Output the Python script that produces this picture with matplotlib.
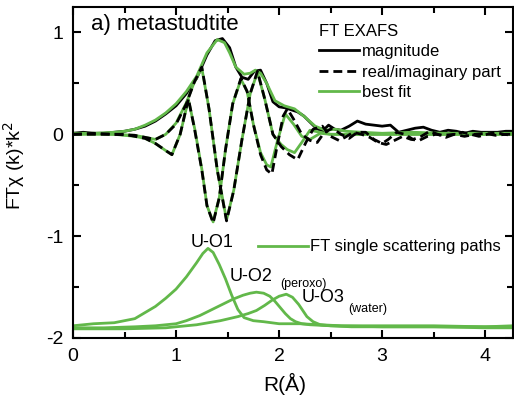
import matplotlib
matplotlib.use("Agg")
import matplotlib.pyplot as plt
from matplotlib.lines import Line2D

plt.rcParams['font.family'] = ['Liberation Sans', 'DejaVu Sans']
plt.rcParams['axes.unicode_minus'] = False

GREEN = '#62b84a'

# ---------------- data ----------------
# magnitude of FT (experiment)
r_mag = [0.0, 0.1, 0.2, 0.3, 0.4, 0.5, 0.6, 0.7, 0.8, 0.9, 1.0, 1.1, 1.2, 1.3, 1.38, 1.45,
         1.52, 1.58, 1.64, 1.70, 1.76, 1.82, 1.88, 1.94, 2.0, 2.06, 2.12, 2.18, 2.24, 2.30,
         2.36, 2.42, 2.48, 2.54, 2.60, 2.68, 2.76, 2.84, 2.92, 3.0, 3.08, 3.16, 3.24, 3.32,
         3.40, 3.48, 3.56, 3.64, 3.72, 3.80, 3.88, 3.96, 4.04, 4.12, 4.20, 4.27]
mag = [0.01, 0.02, 0.01, 0.01, 0.02, 0.03, 0.05, 0.08, 0.13, 0.20, 0.28, 0.40, 0.55, 0.78, 0.92, 0.94,
       0.85, 0.66, 0.56, 0.54, 0.62, 0.63, 0.50, 0.32, 0.27, 0.26, 0.24, 0.22, 0.18, 0.12,
       0.06, 0.03, 0.09, 0.05, 0.04, 0.08, 0.13, 0.10, 0.09, 0.08, 0.09, 0.02, 0.04, 0.06,
       0.07, 0.04, 0.02, 0.04, 0.03, 0.01, 0.03, 0.02, 0.02, 0.02, 0.03, 0.03]

# real part (experiment)
r_re = [0.0, 0.2, 0.4, 0.5, 0.6, 0.7, 0.8, 0.9, 0.96, 1.04, 1.12, 1.18, 1.25, 1.30, 1.36,
        1.42, 1.48, 1.55, 1.63, 1.69, 1.75, 1.82, 1.88, 1.93, 1.98, 2.04, 2.08, 2.14, 2.22,
        2.30, 2.37, 2.44, 2.52, 2.60, 2.68, 2.76, 2.84, 2.92, 3.0, 3.06, 3.14, 3.22, 3.30,
        3.38, 3.46, 3.54, 3.62, 3.70, 3.78, 3.86, 3.94, 4.02, 4.10, 4.18, 4.27]
re = [0.0, 0.0, 0.0, 0.0, -0.02, -0.04, -0.09, -0.16, -0.20, 0.0, 0.35, 0.05, -0.35, -0.70, -0.87,
      -0.62, -0.15, 0.30, 0.55, 0.42, 0.10, -0.20, -0.35, -0.39, -0.12, 0.18, 0.25, 0.15, 0.0,
      -0.06, -0.08, 0.02, 0.06, 0.0, -0.04, 0.02, 0.02, -0.05, -0.09, -0.05, 0.02, 0.0, -0.05,
      -0.02, 0.03, 0.0, -0.03, 0.0, 0.02, 0.0, -0.02, 0.0, 0.02, 0.0, -0.01]

# imaginary part (experiment)
r_im = [0.0, 0.2, 0.4, 0.6, 0.7, 0.8, 0.9, 1.0, 1.1, 1.18, 1.25, 1.32, 1.40, 1.49, 1.56,
        1.64, 1.72, 1.79, 1.86, 1.94, 2.02, 2.10, 2.18, 2.26, 2.33, 2.42, 2.50, 2.58, 2.64,
        2.72, 2.80, 2.88, 2.96, 3.04, 3.12, 3.20, 3.28, 3.36, 3.44, 3.52, 3.60, 3.70, 3.80,
        3.90, 4.00, 4.10, 4.20, 4.27]
im = [0.0, 0.01, 0.0, -0.01, -0.03, -0.05, 0.0, 0.10, 0.30, 0.52, 0.66, 0.25, -0.35, -0.85, -0.55,
      -0.05, 0.40, 0.62, 0.35, 0.0, -0.12, -0.20, -0.25, -0.08, 0.05, 0.08, -0.02, -0.06, -0.03,
      0.02, 0.0, -0.03, -0.08, -0.10, -0.06, -0.02, -0.05, -0.06, -0.02, 0.0, -0.01, 0.0, -0.02,
      0.0, 0.01, -0.01, 0.0, 0.0]

# best fit: magnitude, real, imaginary
r_fmag = [0.0, 0.2, 0.4, 0.5, 0.6, 0.7, 0.8, 0.9, 1.0, 1.1, 1.2, 1.3, 1.40, 1.47, 1.52, 1.58,
          1.66, 1.72, 1.77, 1.82, 1.88, 1.96, 2.05, 2.15, 2.25, 2.35, 2.45, 2.55, 2.65, 2.8,
          3.0, 3.3, 3.6, 3.9, 4.27]
fmag = [0.01, 0.01, 0.02, 0.03, 0.05, 0.09, 0.14, 0.21, 0.30, 0.42, 0.57, 0.80, 0.93, 0.90, 0.80, 0.66,
        0.59, 0.60, 0.63, 0.60, 0.50, 0.33, 0.28, 0.25, 0.17, 0.08, 0.04, 0.05, 0.03, 0.02,
        0.01, 0.02, 0.01, 0.01, 0.01]

r_fre = [0.0, 0.2, 0.4, 0.6, 0.7, 0.8, 0.9, 0.96, 1.04, 1.12, 1.18, 1.25, 1.30, 1.36, 1.42,
         1.48, 1.55, 1.63, 1.69, 1.75, 1.82, 1.88, 1.92, 1.98, 2.06, 2.14, 2.22, 2.30, 2.40,
         2.5, 2.7, 3.0, 3.5, 4.0, 4.27]
fre = [0.0, 0.0, 0.0, -0.02, -0.04, -0.09, -0.16, -0.20, 0.0, 0.34, 0.06, -0.34, -0.70, -0.86, -0.62,
       -0.15, 0.30, 0.54, 0.42, 0.10, -0.18, -0.30, -0.32, -0.08, 0.20, 0.10, -0.02, -0.05, 0.01,
       0.0, 0.0, 0.0, 0.0, 0.0, 0.0]

r_fim = [0.0, 0.2, 0.4, 0.6, 0.7, 0.8, 0.9, 1.0, 1.1, 1.18, 1.25, 1.32, 1.40, 1.49, 1.56,
         1.64, 1.72, 1.79, 1.86, 1.94, 2.02, 2.08, 2.15, 2.22, 2.30, 2.40, 2.5, 2.7, 3.0,
         3.5, 4.0, 4.27]
fim = [0.0, 0.01, 0.0, -0.01, -0.03, -0.05, 0.0, 0.11, 0.31, 0.52, 0.65, 0.25, -0.35, -0.84, -0.55,
       -0.05, 0.40, 0.61, 0.35, 0.0, -0.10, -0.15, -0.18, -0.08, 0.04, 0.02, 0.0, 0.0, 0.0,
       0.0, 0.0, 0.0]

# single scattering paths (offset)
r_uo1 = [0.0, 0.2, 0.4, 0.5, 0.6, 0.7, 0.8, 0.9, 1.0, 1.1, 1.2, 1.26, 1.31, 1.36, 1.42, 1.48,
         1.54, 1.60, 1.66, 1.75, 1.85, 2.0, 2.2, 2.4, 2.6, 3.0, 3.5, 4.0, 4.27]
uo1 = [-1.88, -1.86, -1.85, -1.83, -1.81, -1.75, -1.69, -1.61, -1.52, -1.40, -1.26, -1.17, -1.12,
       -1.16, -1.28, -1.42, -1.58, -1.72, -1.80, -1.83, -1.84, -1.86, -1.86, -1.87, -1.88, -1.88,
       -1.88, -1.89, -1.88]

r_uo2 = [0.0, 0.3, 0.6, 0.8, 1.0, 1.1, 1.23, 1.35, 1.45, 1.55, 1.65, 1.72, 1.78, 1.85, 1.91,
         1.96, 2.01, 2.06, 2.11, 2.16, 2.22, 2.3, 2.5, 3.0, 3.5, 4.0, 4.27]
uo2 = [-1.90, -1.90, -1.89, -1.88, -1.86, -1.83, -1.78, -1.72, -1.67, -1.62, -1.58, -1.56, -1.55,
       -1.56, -1.59, -1.64, -1.70, -1.76, -1.81, -1.84, -1.86, -1.87, -1.88, -1.89, -1.89, -1.89,
       -1.89]

r_uo3 = [0.0, 0.5, 0.9, 1.0, 1.2, 1.43, 1.6, 1.7, 1.78, 1.86, 1.93, 2.0, 2.07, 2.13, 2.19,
         2.23, 2.27, 2.33, 2.4, 2.5, 2.7, 3.0, 3.5, 4.0, 4.27]
uo3 = [-1.91, -1.91, -1.90, -1.89, -1.87, -1.83, -1.79, -1.76, -1.73, -1.68, -1.63, -1.59, -1.57,
       -1.60, -1.67, -1.73, -1.79, -1.84, -1.87, -1.88, -1.89, -1.89, -1.89, -1.90, -1.90]

path_labels = ["U-O1", "U-O2", "U-O3"]
path_subs = ["(peroxo)", "(water)"]

# ---------------- figure ----------------
fig = plt.figure(figsize=(5.14, 4.01), dpi=100)
ax = fig.add_axes([73/514, 1-338/401, 440/514, 331/401])

LW = 2.0
dash = (3.2, 1.8)
ax.plot(r_mag, mag, color='black', lw=LW)
ax.plot(r_fmag, fmag, color=GREEN, lw=LW)
ax.plot(r_fre, fre, color=GREEN, lw=LW)
ax.plot(r_fim, fim, color=GREEN, lw=LW)
ax.plot(r_re, re, color='black', lw=LW, dashes=dash)
ax.plot(r_im, im, color='black', lw=LW, dashes=dash)

ax.plot(r_uo1, uo1, color=GREEN, lw=LW)
ax.plot(r_uo2, uo2, color=GREEN, lw=LW)
ax.plot(r_uo3, uo3, color=GREEN, lw=LW)

ax.set_xlim(0, 4.27)
ax.set_ylim(-2.0, 1.25)
ax.set_xticks([0, 1, 2, 3, 4])
ax.set_yticks([-2, -1, 0, 1])
ax.set_xticks([0.5, 1.5, 2.5, 3.5], minor=True)
ax.set_yticks([-1.5, -0.5, 0.5], minor=True)
ax.tick_params(which='both', direction='in', top=True, right=True, width=1.5, labelsize=14)
ax.tick_params(which='major', length=6, pad=7)
ax.tick_params(which='minor', length=4)
for s in ax.spines.values():
    s.set_linewidth(1.5)

ax.set_xlabel("R(Å)", fontsize=15)
ax.xaxis.set_label_coords(0.482, -0.105)
ax.set_ylabel("FTχ (k)*k$^2$", fontsize=14)
ax.yaxis.set_label_coords(-0.105, 0.52)

ax.text(0.04, 0.978, "a) metastudtite", transform=ax.transAxes, fontsize=16, va='top', ha='left')

h1 = [Line2D([], [], color='black', lw=LW),
      Line2D([], [], color='black', lw=LW, dashes=dash),
      Line2D([], [], color=GREEN, lw=LW)]
leg1 = ax.legend(h1, ["magnitude", "real/imaginary part", "best fit"], title="FT EXAFS",
                 loc='upper left', bbox_to_anchor=(0.56, 0.95), frameon=False,
                 fontsize=12, title_fontsize=12, handlelength=2.4, handletextpad=0.15,
                 labelspacing=0.33, borderaxespad=0, borderpad=0, alignment='left')
ax.add_artist(leg1)
h2 = [Line2D([], [], color=GREEN, lw=LW)]
ax.legend(h2, ["FT single scattering paths"], loc='center left', bbox_to_anchor=(0.42, 0.275),
          frameon=False, fontsize=12, handlelength=3.0, handletextpad=0.15,
          borderaxespad=0, borderpad=0)

ax.text(1.35, -1.06, path_labels[0], fontsize=13, ha='center', va='center')
ax.text(1.73, -1.40, path_labels[1], fontsize=13, ha='center', va='center')
ax.text(2.24, -1.47, path_subs[0], fontsize=9, ha='center', va='center')
ax.text(2.43, -1.60, path_labels[2], fontsize=13, ha='center', va='center')
ax.text(2.86, -1.72, path_subs[1], fontsize=9, ha='center', va='center')

fig.savefig("out.png", dpi=100)
